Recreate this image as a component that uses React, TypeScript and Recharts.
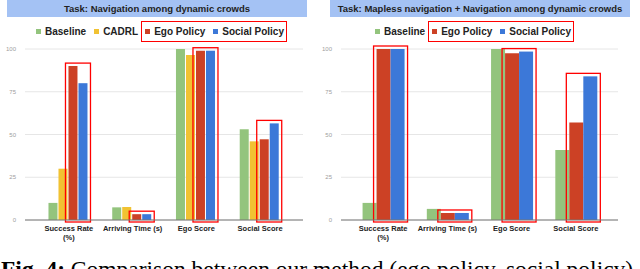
import React from 'react';
import { BarChart, Bar, XAxis, YAxis, CartesianGrid } from 'recharts';

const categories = ['Success Rate (%)', 'Arriving Time (s)', 'Ego Score', 'Social Score'];
const yTicks = [0, 25, 50, 75, 100];

// left panel: navigation among dynamic crowds
const crowdBaseline = [10, 7.4, 100, 53];
const crowdCadrl = [30, 7.6, 96.5, 46];
const crowdEgo = [90, 3.4, 99, 47.2];
const crowdSocial = [80, 3.4, 99, 56.5];

// right panel: mapless navigation + navigation among dynamic crowds
const maplessBaseline = [10, 6.5, 100, 41];
const maplessEgo = [100, 4.1, 97.5, 57];
const maplessSocial = [100, 4.1, 98.5, 84];

const COLORS = { baseline: '#93c47d', cadrl: '#f1c232', ego: '#cc4125', social: '#3c78d8' };
const UI_FONT = '"Liberation Sans", Arial, sans-serif';

const crowdData = categories.map((name, i) => ({
  name,
  baseline: crowdBaseline[i],
  cadrl: crowdCadrl[i],
  ego: crowdEgo[i],
  social: crowdSocial[i],
}));

const maplessData = categories.map((name, i) => ({
  name,
  baseline: maplessBaseline[i],
  ego: maplessEgo[i],
  social: maplessSocial[i],
}));

// x tick, "(%)" goes on its own line like in the sheet
const CategoryTick = (props: any) => {
  const { x, y, payload } = props;
  const m = /^(.*) (\(%\))$/.exec(payload.value);
  const lines = m ? [m[1], m[2]] : [payload.value];
  return (
    <text x={x} y={y} textAnchor="middle" fontSize={7.5} fontWeight={700} fill="#222" fontFamily={UI_FONT}>
      {lines.map((l, i) => (
        <tspan key={i} x={x} dy={i === 0 ? 11 : 9}>{l}</tspan>
      ))}
    </text>
  );
};

// social bar also draws the red highlight box around ego + social
const boxedShape = (gap: number) => (props: any) => {
  const { x, y, width, height, fill, payload } = props;
  const perUnit = height / payload.social;
  const bottom = y + height;
  const egoTop = bottom - payload.ego * perUnit;
  const top = Math.min(y, egoTop) - 3;
  const left = x - width - gap - 3;
  const right = x + width + 3;
  return (
    <g>
      <rect x={x} y={y} width={width} height={height} fill={fill} />
      <rect x={left} y={top} width={right - left} height={bottom + 2 - top} fill="none" stroke="#ff0000" strokeWidth={1.3} />
    </g>
  );
};

type LegendItem = { label: string; color: string; boxed?: boolean };

const LegendRow = ({ items, left }: { items: LegendItem[]; left: number }) => {
  const entry = (it: LegendItem, last: boolean) => (
    <div key={it.label} style={{ display: 'flex', alignItems: 'center', marginRight: last ? 0 : 8 }}>
      <div style={{ width: 5, height: 5, background: it.color, marginRight: 4 }} />
      <span>{it.label}</span>
    </div>
  );
  const plain = items.filter((it) => !it.boxed);
  const boxed = items.filter((it) => it.boxed);
  return (
    <div
      style={{
        position: 'absolute', left, top: 21, height: 21, display: 'flex', alignItems: 'center',
        fontFamily: UI_FONT, fontWeight: 700, fontSize: 10, color: '#222', whiteSpace: 'nowrap',
      }}
    >
      {plain.map((it) => entry(it, false))}
      <div
        style={{
          display: 'flex', alignItems: 'center', height: 19, padding: '0 2px 0 3px',
          border: '1.3px solid #ff0000', marginLeft: -5,
        }}
      >
        {boxed.map((it, i) => entry(it, i === boxed.length - 1))}
      </div>
    </div>
  );
};

const TitleBar = ({ text, left }: { text: string; left: number }) => (
  <div
    style={{
      position: 'absolute', left, top: 0, width: 300, height: 17, background: '#a4c2f4',
      fontFamily: UI_FONT, fontWeight: 700, fontSize: 9.5, lineHeight: '18px', textAlign: 'center', color: '#222',
    }}
  >
    {text}
  </div>
);

const yAxisProps = {
  type: 'number' as const,
  domain: [0, 100],
  ticks: yTicks,
  axisLine: false,
  tickLine: false,
  tickMargin: 3,
  tick: { fontSize: 6, fill: '#9e9e9e', fontFamily: UI_FONT },
};

export default function App() {
  return (
    <div style={{ position: 'absolute', left: 0, top: 0, width: 640, height: 269, background: '#fff', overflow: 'hidden' }}>
      <TitleBar text="Task: Navigation among dynamic crowds" left={7} />
      <TitleBar text="Task: Mapless navigation + Navigation among dynamic crowds" left={330} />

      <LegendRow
        left={36}
        items={[
          { label: 'Baseline', color: COLORS.baseline },
          { label: 'CADRL', color: COLORS.cadrl },
          { label: 'Ego Policy', color: COLORS.ego, boxed: true },
          { label: 'Social Policy', color: COLORS.social, boxed: true },
        ]}
      />
      <LegendRow
        left={375}
        items={[
          { label: 'Baseline', color: COLORS.baseline },
          { label: 'Ego Policy', color: COLORS.ego, boxed: true },
          { label: 'Social Policy', color: COLORS.social, boxed: true },
        ]}
      />

      <div style={{ position: 'absolute', left: 0, top: 40 }}>
        <BarChart width={310} height={210} data={crowdData} margin={{ top: 9, right: 7, left: 0, bottom: 0 }}
          barCategoryGap="18%" barGap={1}>
          <CartesianGrid vertical={false} stroke="#e6e6e6" />
          <XAxis dataKey="name" interval={0} height={30} tickSize={0} tickMargin={0} tick={<CategoryTick />}
            axisLine={{ stroke: '#777' }} tickLine={false} padding={{ left: 12, right: 11 }} />
          <YAxis width={25} {...yAxisProps} />
          <Bar dataKey="baseline" fill={COLORS.baseline} isAnimationActive={false} />
          <Bar dataKey="cadrl" fill={COLORS.cadrl} isAnimationActive={false} />
          <Bar dataKey="ego" fill={COLORS.ego} isAnimationActive={false} />
          <Bar dataKey="social" fill={COLORS.social} isAnimationActive={false} shape={boxedShape(1)} />
        </BarChart>
      </div>

      <div style={{ position: 'absolute', left: 320, top: 40 }}>
        <BarChart width={310} height={210} data={maplessData} margin={{ top: 9, right: 12, left: 0, bottom: 0 }}
          barCategoryGap="18%" barGap={0}>
          <CartesianGrid vertical={false} stroke="#e6e6e6" />
          <XAxis dataKey="name" interval={0} height={30} tickSize={0} tickMargin={0} tick={<CategoryTick />}
            axisLine={{ stroke: '#777' }} tickLine={false} padding={{ left: 10, right: 10 }} />
          <YAxis width={21} {...yAxisProps} />
          <Bar dataKey="baseline" fill={COLORS.baseline} isAnimationActive={false} />
          <Bar dataKey="ego" fill={COLORS.ego} isAnimationActive={false} />
          <Bar dataKey="social" fill={COLORS.social} isAnimationActive={false} shape={boxedShape(0)} />
        </BarChart>
      </div>

      <svg width={640} height={269} style={{ position: 'absolute', left: 0, top: 0, pointerEvents: 'none' }}>
        <text x={1} y={277} fontFamily='"Liberation Serif", "Times New Roman", serif' fontSize={23.5} fill="#000">
          <tspan fontWeight={700}>Fig. 4:</tspan> Comparison between our method (ego policy, social policy)
        </text>
      </svg>
    </div>
  );
}
